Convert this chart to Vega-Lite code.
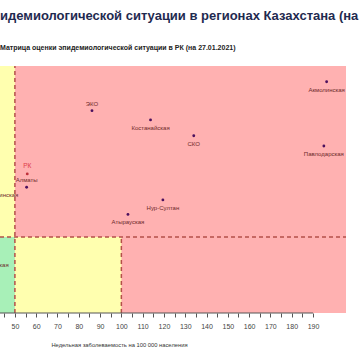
{
  "$schema": "https://vega.github.io/schema/vega-lite/v6.json",
  "autosize": {"type": "none"},
  "width": 346,
  "height": 247,
  "padding": {"left": 0, "top": 66, "right": 14, "bottom": 47},
  "background": "white",
  "config": {"view": {"stroke": null}},
  "title": {
    "text": "идемиологической ситуации в регионах Казахстана (на",
    "subtitle": "Матрица оценки эпидемиологической ситуации в РК (на 27.01.2021)",
    "anchor": "start",
    "frame": "group",
    "font": "Liberation Sans",
    "fontSize": 13,
    "fontWeight": "bold",
    "color": "#1F2A50",
    "subtitleFont": "Liberation Sans",
    "subtitleFontSize": 7,
    "subtitleFontWeight": "bold",
    "subtitleColor": "#222222",
    "subtitlePadding": 21,
    "offset": 14
  },
  "resolve": {"axis": {"x": "independent"}},
  "datasets": {
    "zones": [
      {"x": 43, "x2": 205.5, "y": 0.6, "y2": 1.9, "zone": "red"},
      {"x": 43, "x2": 50, "y": 1.0, "y2": 1.9, "zone": "yellow"},
      {"x": 43, "x2": 50, "y": 0.6, "y2": 1.0, "zone": "green"},
      {"x": 50, "x2": 100, "y": 0.6, "y2": 1.0, "zone": "yellow"}
    ],
    "lines": [
      {"x": 50, "x2": 50, "y": 0.6, "y2": 1.9},
      {"x": 43, "x2": 205.5, "y": 1.0, "y2": 1.0},
      {"x": 100, "x2": 100, "y": 0.6, "y2": 1.0}
    ],
    "axisline": [
      {"x": 43, "x2": 190, "y": 0.6}
    ],
    "regions": [
      {"region": "Акмолинская", "incidence": 196.4, "r": 1.817},
      {"region": "Павлодарская", "incidence": 195.1, "r": 1.479},
      {"region": "СКО", "incidence": 134.0, "r": 1.533},
      {"region": "ЭКО", "incidence": 86.2, "r": 1.665},
      {"region": "Костанайская", "incidence": 113.7, "r": 1.616},
      {"region": "Алматы", "incidence": 55.5, "r": 1.262},
      {"region": "Нур-Султан", "incidence": 119.5, "r": 1.195},
      {"region": "Атырауская", "incidence": 103.1, "r": 1.119},
      {"region": "Карагандинская", "incidence": 41.1, "r": 1.263},
      {"region": "Туркестанская", "incidence": 37.6, "r": 0.895}
    ],
    "rk": [
      {"region": "РК", "incidence": 55.8, "r": 1.332}
    ]
  },
  "layer": [
    {
      "data": {"name": "zones"},
      "mark": {"type": "rect"},
      "encoding": {
        "x": {"field": "x", "type": "quantitative", "scale": {"domain": [43, 205.5], "nice": false, "zero": false},
          "axis": {
            "orient": "bottom",
            "values": [50, 60, 70, 80, 90, 100, 110, 120, 130, 140, 150, 160, 170, 180, 190],
            "labelOverlap": false,
            "domain": false,
            "grid": false,
            "tickSize": 4,
            "tickColor": "#555555",
            "labelFont": "Liberation Sans",
            "labelFontSize": 7,
            "labelColor": "#444444",
            "labelPadding": 5,
            "title": "Недельная заболеваемость на 100 000 населения",
            "titleFont": "Liberation Sans",
            "titleFontSize": 5.8,
            "titleFontWeight": "normal",
            "titleColor": "#333333",
            "titleX": 119,
            "titlePadding": 12
          }},
        "x2": {"field": "x2"},
        "y": {"field": "y", "type": "quantitative", "scale": {"domain": [0.6, 1.9], "nice": false, "zero": false}, "axis": null},
        "y2": {"field": "y2"},
        "color": {"field": "zone", "type": "nominal", "legend": null,
          "scale": {"domain": ["red", "yellow", "green"], "range": ["#FFB1B1", "#FFFFAF", "#A8F0B8"]}}
      }
    },
    {
      "data": {"name": "lines"},
      "mark": {"type": "rule", "color": "#B4504A", "strokeWidth": 1.5, "strokeDash": [4, 3]},
      "encoding": {
        "x": {"field": "x", "type": "quantitative", "axis": null},
        "x2": {"field": "x2"},
        "y": {"field": "y", "type": "quantitative"},
        "y2": {"field": "y2"}
      }
    },
    {
      "data": {"name": "axisline"},
      "mark": {"type": "rule", "color": "#555555", "strokeWidth": 1},
      "encoding": {
        "x": {"field": "x", "type": "quantitative",
          "axis": {
            "orient": "bottom",
            "values": [45, 55, 65, 75, 85, 95, 105, 115, 125, 135, 145, 155, 165, 175, 185],
            "labels": false,
            "domain": false,
            "grid": false,
            "title": null,
            "tickSize": 4,
            "tickColor": "#555555"
          }},
        "x2": {"field": "x2"},
        "y": {"field": "y", "type": "quantitative"}
      }
    },
    {
      "data": {"name": "regions"},
      "mark": {"type": "circle", "color": "#4B105E", "opacity": 1, "size": 8},
      "encoding": {
        "x": {"field": "incidence", "type": "quantitative", "axis": null},
        "y": {"field": "r", "type": "quantitative"}
      }
    },
    {
      "data": {"name": "regions"},
      "transform": [{"filter": {"not": {"field": "region", "oneOf": ["ЭКО", "Алматы"]}}}],
      "mark": {"type": "text", "dy": 8, "font": "Liberation Sans", "fontSize": 6, "color": "#6E2A2A"},
      "encoding": {
        "x": {"field": "incidence", "type": "quantitative", "axis": null},
        "y": {"field": "r", "type": "quantitative"},
        "text": {"field": "region"}
      }
    },
    {
      "data": {"name": "regions"},
      "transform": [{"filter": {"field": "region", "oneOf": ["ЭКО", "Алматы"]}}],
      "mark": {"type": "text", "dy": -7, "font": "Liberation Sans", "fontSize": 6, "color": "#6E2A2A"},
      "encoding": {
        "x": {"field": "incidence", "type": "quantitative", "axis": null},
        "y": {"field": "r", "type": "quantitative"},
        "text": {"field": "region"}
      }
    },
    {
      "data": {"name": "rk"},
      "mark": {"type": "circle", "color": "#C0303A", "opacity": 1, "size": 8},
      "encoding": {
        "x": {"field": "incidence", "type": "quantitative", "axis": null},
        "y": {"field": "r", "type": "quantitative"}
      }
    },
    {
      "data": {"name": "rk"},
      "mark": {"type": "text", "dy": -8, "font": "Liberation Sans", "fontSize": 6.5, "color": "#E0404A"},
      "encoding": {
        "x": {"field": "incidence", "type": "quantitative", "axis": null},
        "y": {"field": "r", "type": "quantitative"},
        "text": {"field": "region"}
      }
    }
  ]
}
